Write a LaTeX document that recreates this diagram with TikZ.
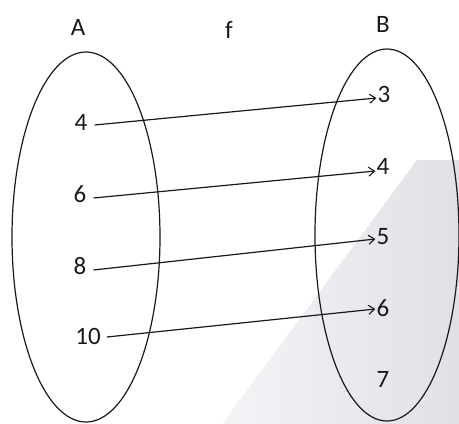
\documentclass[tikz,border=0pt]{standalone}
\usepackage{fontspec}
\setmainfont{Carlito}
\usetikzlibrary{arrows.meta}
\definecolor{wm}{RGB}{224,225,229}
\definecolor{wmlight}{RGB}{244,244,247}
\definecolor{ink}{RGB}{25,25,25}
\tikzset{
  lbl/.style={font=\fontsize{25}{28}\selectfont, text=ink, inner sep=0pt},
  elem/.style={font=\fontsize{25}{28}\selectfont, text=ink, inner sep=0pt},
  setline/.style={draw=ink, line width=1.2pt},
  mapline/.style={draw=ink, line width=1.2pt, -{Straight Barb[length=6pt,width=9pt,line width=1.1pt]}}
}
\begin{document}
\begin{tikzpicture}[x=1pt,y=-1pt]
\useasboundingbox (0,0) rectangle (459,424);
% watermark shape
\shade[left color=wmlight, right color=wm, shading angle=90]
  (417,160) -- (459,160) -- (459,424) -- (222,424) -- cycle;
% sets
\draw[setline] (86,237) ellipse (74 and 185);
\draw[setline] (387,235) ellipse (72 and 186);
% titles
\node[lbl] (A) at (78,27) {A};
\node[lbl] (f) at (229,30) {f};
\node[lbl] (B) at (383,24) {B};
% domain elements
\node[elem] (a4) at (81,122) {4};
\node[elem] (a6) at (80,194) {6};
\node[elem] (a8) at (80,266) {8};
\node[elem] (a10) at (88,336) {10};
% codomain elements
\node[elem] (b3) at (384,94) {3};
\node[elem] (b4) at (383,166) {4};
\node[elem] (b5) at (383,237) {5};
\node[elem] (b6) at (383,308) {6};
\node[elem] (b7) at (383,379) {7};
% mappings
\draw[mapline] ([xshift=7pt,yshift=-3pt]a4.east) -- ([xshift=-1pt,yshift=-4pt]b3.west);
\draw[mapline] ([xshift=7pt,yshift=-4pt]a6.east) -- ([xshift=-1pt,yshift=-5pt]b4.west);
\draw[mapline] ([xshift=7pt,yshift=-4pt]a8.east) -- ([xshift=-1pt,yshift=-2pt]b5.west);
\draw[mapline] ([xshift=6pt,yshift=-1pt]a10.east) -- ([xshift=-1pt,yshift=-1pt]b6.west);
\end{tikzpicture}
\end{document}
